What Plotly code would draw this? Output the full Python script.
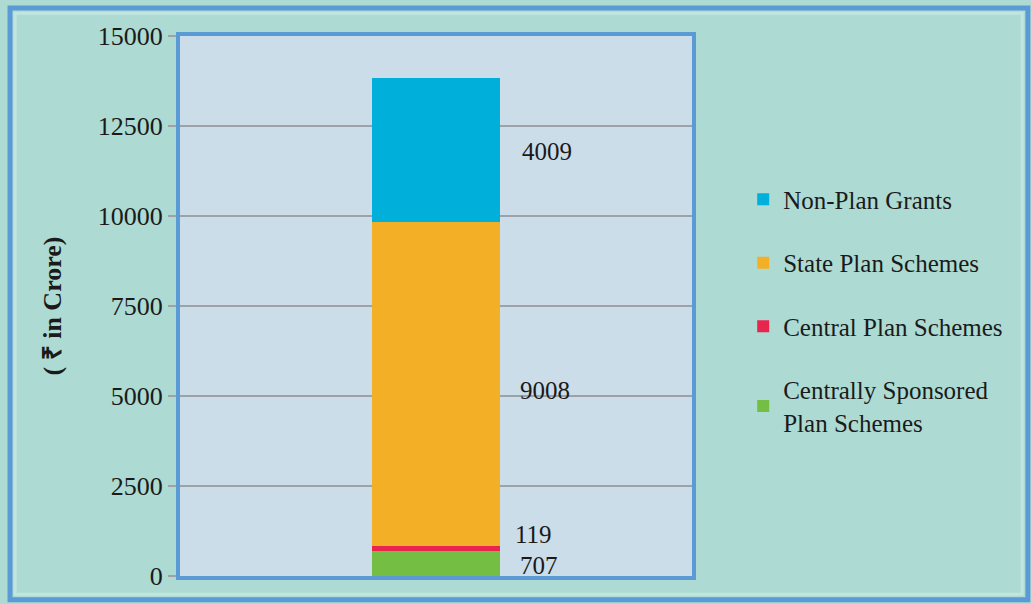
import plotly.graph_objects as go

categories = [""]
series_names = ["Centrally Sponsored<br>Plan Schemes", "Central Plan Schemes", "State Plan Schemes", "Non-Plan Grants"]
series_values = [[707], [119], [9008], [4009]]
series_colors = ["#74be44", "#e8254f", "#f3b026", "#00b0da"]
label_texts = ["707", "119", "9008", "4009"]
tick_vals = [0, 2500, 5000, 7500, 10000, 12500, 15000]

fig = go.Figure()
n = len(series_names)
for i, (name, vals, col) in enumerate(zip(series_names, series_values, series_colors)):
    fig.add_trace(go.Bar(
        x=[0], y=vals, name=name, width=0.25,
        marker=dict(color=col, line=dict(width=0)),
        legendgroup=f"g{i}", legendrank=n - i,
    ))

# value labels to the right of the bar
cum = 0
yshifts = [-2, 14, -6, -2]
xshifts = [18, 13, 18, 20]
for i, vals in enumerate(series_values):
    v = vals[0]
    mid = cum + v / 2
    cum += v
    fig.add_annotation(x=0.125, y=mid, text=label_texts[i], showarrow=False,
                       xanchor="left", yanchor="middle", xshift=xshifts[i], yshift=yshifts[i],
                       font=dict(family="Liberation Serif", size=25, color="#1a1a1a"))

# outer frame
fig.add_shape(type="rect", xref="paper", yref="paper",
              x0=-0.332, x1=1.656, y0=-0.044, y1=1.052,
              line=dict(color="#5b9bd5", width=5), fillcolor="rgba(0,0,0,0)", layer="below")
fig.add_shape(type="rect", xref="paper", yref="paper",
              x0=-0.322, x1=1.645, y0=-0.034, y1=1.042,
              line=dict(color="#c2e6df", width=3), fillcolor="rgba(0,0,0,0)", layer="below")

fig.update_layout(
    width=1031, height=604,
    margin=dict(l=180, r=339, t=36, b=28),
    paper_bgcolor="#addad2",
    plot_bgcolor="#cbdde8",
    barmode="stack",
    bargap=0,
    showlegend=True,
    legend=dict(
        x=1.10, y=0.74, xanchor="left", yanchor="top",
        traceorder="grouped", tracegroupgap=28,
        font=dict(family="Liberation Serif", size=25, color="#1a1a1a"),
        bgcolor="rgba(0,0,0,0)", itemwidth=30,
    ),
    xaxis=dict(range=[-0.5, 0.5], showticklabels=False, showgrid=False, zeroline=False,
               showline=True, mirror=True, linecolor="#5b9bd5", linewidth=4, ticks=""),
    yaxis=dict(range=[0, 15000], tickvals=tick_vals, ticktext=[str(t) for t in tick_vals],
               showgrid=True, gridcolor="#9ea2a6", gridwidth=2, zeroline=False,
               showline=True, mirror=True, linecolor="#5b9bd5", linewidth=4,
               ticks="outside", ticklen=8, tickcolor="#9ea2a6", tickwidth=2,
               tickfont=dict(family="Liberation Serif", size=26, color="#1a1a1a"),
               title=dict(text="<b>( ₹ in Crore)</b>", standoff=30,
                          font=dict(family="Liberation Serif", size=26, color="#1a1a1a"))),
)

fig.write_html("out.html", config={"displayModeBar": False},
               post_script="document.body.style.margin='0';document.body.style.overflow='hidden';")
